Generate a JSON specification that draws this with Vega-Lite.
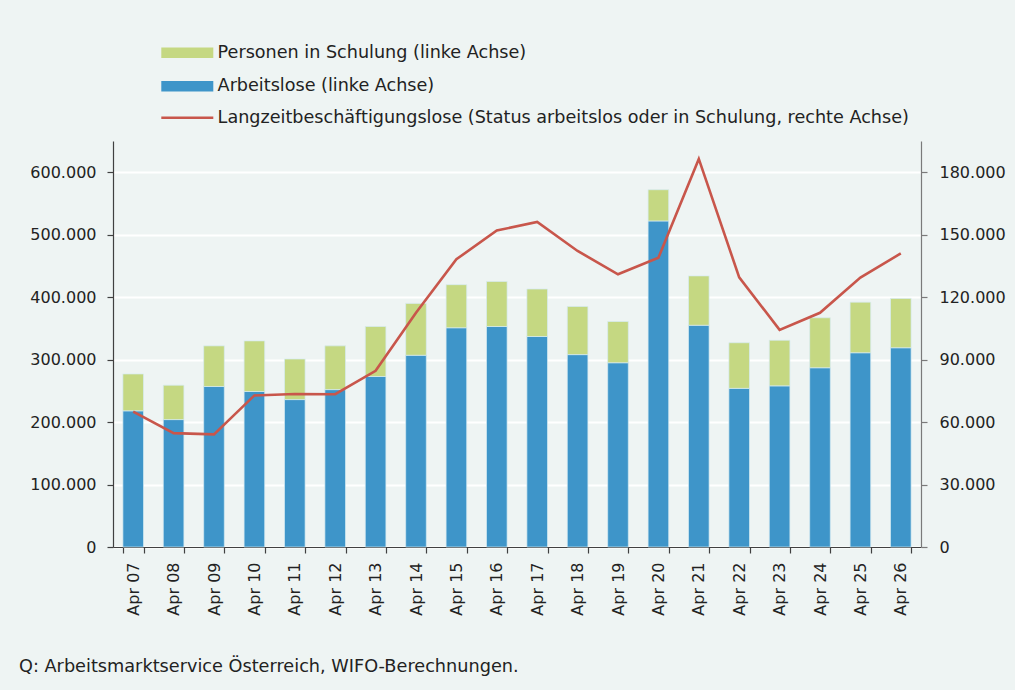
{
  "$schema": "https://vega.github.io/schema/vega-lite/v6.json",
  "width": 808,
  "height": 406,
  "autosize": {"type": "none"},
  "padding": {"left": 113, "top": 141, "right": 94, "bottom": 143},
  "background": "#eef4f3",
  "title": {
    "text": "Q: Arbeitsmarktservice Österreich, WIFO-Berechnungen.",
    "orient": "bottom",
    "anchor": "start",
    "frame": "group",
    "dx": -94,
    "offset": 43,
    "fontSize": 17.7,
    "fontWeight": "normal",
    "font": "DejaVu Sans",
    "color": "#222222",
    "baseline": "top"
  },
  "datasets": {
    "bars": [
      {"year": "Apr 07", "series": "Arbeitslose (linke Achse)", "value": 218000},
      {"year": "Apr 07", "series": "Personen in Schulung (linke Achse)", "value": 59000},
      {"year": "Apr 08", "series": "Arbeitslose (linke Achse)", "value": 204000},
      {"year": "Apr 08", "series": "Personen in Schulung (linke Achse)", "value": 55000},
      {"year": "Apr 09", "series": "Arbeitslose (linke Achse)", "value": 257000},
      {"year": "Apr 09", "series": "Personen in Schulung (linke Achse)", "value": 65000},
      {"year": "Apr 10", "series": "Arbeitslose (linke Achse)", "value": 249000},
      {"year": "Apr 10", "series": "Personen in Schulung (linke Achse)", "value": 81000},
      {"year": "Apr 11", "series": "Arbeitslose (linke Achse)", "value": 236000},
      {"year": "Apr 11", "series": "Personen in Schulung (linke Achse)", "value": 65000},
      {"year": "Apr 12", "series": "Arbeitslose (linke Achse)", "value": 252000},
      {"year": "Apr 12", "series": "Personen in Schulung (linke Achse)", "value": 70000},
      {"year": "Apr 13", "series": "Arbeitslose (linke Achse)", "value": 273000},
      {"year": "Apr 13", "series": "Personen in Schulung (linke Achse)", "value": 80000},
      {"year": "Apr 14", "series": "Arbeitslose (linke Achse)", "value": 307000},
      {"year": "Apr 14", "series": "Personen in Schulung (linke Achse)", "value": 83000},
      {"year": "Apr 15", "series": "Arbeitslose (linke Achse)", "value": 351000},
      {"year": "Apr 15", "series": "Personen in Schulung (linke Achse)", "value": 69000},
      {"year": "Apr 16", "series": "Arbeitslose (linke Achse)", "value": 353000},
      {"year": "Apr 16", "series": "Personen in Schulung (linke Achse)", "value": 72000},
      {"year": "Apr 17", "series": "Arbeitslose (linke Achse)", "value": 337000},
      {"year": "Apr 17", "series": "Personen in Schulung (linke Achse)", "value": 76000},
      {"year": "Apr 18", "series": "Arbeitslose (linke Achse)", "value": 308000},
      {"year": "Apr 18", "series": "Personen in Schulung (linke Achse)", "value": 77000},
      {"year": "Apr 19", "series": "Arbeitslose (linke Achse)", "value": 295000},
      {"year": "Apr 19", "series": "Personen in Schulung (linke Achse)", "value": 66000},
      {"year": "Apr 20", "series": "Arbeitslose (linke Achse)", "value": 522000},
      {"year": "Apr 20", "series": "Personen in Schulung (linke Achse)", "value": 50000},
      {"year": "Apr 21", "series": "Arbeitslose (linke Achse)", "value": 355000},
      {"year": "Apr 21", "series": "Personen in Schulung (linke Achse)", "value": 79000},
      {"year": "Apr 22", "series": "Arbeitslose (linke Achse)", "value": 254000},
      {"year": "Apr 22", "series": "Personen in Schulung (linke Achse)", "value": 73000},
      {"year": "Apr 23", "series": "Arbeitslose (linke Achse)", "value": 258000},
      {"year": "Apr 23", "series": "Personen in Schulung (linke Achse)", "value": 73000},
      {"year": "Apr 24", "series": "Arbeitslose (linke Achse)", "value": 287000},
      {"year": "Apr 24", "series": "Personen in Schulung (linke Achse)", "value": 80000},
      {"year": "Apr 25", "series": "Arbeitslose (linke Achse)", "value": 311000},
      {"year": "Apr 25", "series": "Personen in Schulung (linke Achse)", "value": 81000},
      {"year": "Apr 26", "series": "Arbeitslose (linke Achse)", "value": 319000},
      {"year": "Apr 26", "series": "Personen in Schulung (linke Achse)", "value": 79000}
    ],
    "line": [
      {"year": "Apr 07", "series": "Langzeitbeschäftigungslose (Status arbeitslos oder in Schulung, rechte Achse)", "value": 65000},
      {"year": "Apr 08", "series": "Langzeitbeschäftigungslose (Status arbeitslos oder in Schulung, rechte Achse)", "value": 54700},
      {"year": "Apr 09", "series": "Langzeitbeschäftigungslose (Status arbeitslos oder in Schulung, rechte Achse)", "value": 54100},
      {"year": "Apr 10", "series": "Langzeitbeschäftigungslose (Status arbeitslos oder in Schulung, rechte Achse)", "value": 72800},
      {"year": "Apr 11", "series": "Langzeitbeschäftigungslose (Status arbeitslos oder in Schulung, rechte Achse)", "value": 73500},
      {"year": "Apr 12", "series": "Langzeitbeschäftigungslose (Status arbeitslos oder in Schulung, rechte Achse)", "value": 73400},
      {"year": "Apr 13", "series": "Langzeitbeschäftigungslose (Status arbeitslos oder in Schulung, rechte Achse)", "value": 84600},
      {"year": "Apr 14", "series": "Langzeitbeschäftigungslose (Status arbeitslos oder in Schulung, rechte Achse)", "value": 112500},
      {"year": "Apr 15", "series": "Langzeitbeschäftigungslose (Status arbeitslos oder in Schulung, rechte Achse)", "value": 138200},
      {"year": "Apr 16", "series": "Langzeitbeschäftigungslose (Status arbeitslos oder in Schulung, rechte Achse)", "value": 152000},
      {"year": "Apr 17", "series": "Langzeitbeschäftigungslose (Status arbeitslos oder in Schulung, rechte Achse)", "value": 156100},
      {"year": "Apr 18", "series": "Langzeitbeschäftigungslose (Status arbeitslos oder in Schulung, rechte Achse)", "value": 142200},
      {"year": "Apr 19", "series": "Langzeitbeschäftigungslose (Status arbeitslos oder in Schulung, rechte Achse)", "value": 131000},
      {"year": "Apr 20", "series": "Langzeitbeschäftigungslose (Status arbeitslos oder in Schulung, rechte Achse)", "value": 138900},
      {"year": "Apr 21", "series": "Langzeitbeschäftigungslose (Status arbeitslos oder in Schulung, rechte Achse)", "value": 186400},
      {"year": "Apr 22", "series": "Langzeitbeschäftigungslose (Status arbeitslos oder in Schulung, rechte Achse)", "value": 129500},
      {"year": "Apr 23", "series": "Langzeitbeschäftigungslose (Status arbeitslos oder in Schulung, rechte Achse)", "value": 104300},
      {"year": "Apr 24", "series": "Langzeitbeschäftigungslose (Status arbeitslos oder in Schulung, rechte Achse)", "value": 112500},
      {"year": "Apr 25", "series": "Langzeitbeschäftigungslose (Status arbeitslos oder in Schulung, rechte Achse)", "value": 129400},
      {"year": "Apr 26", "series": "Langzeitbeschäftigungslose (Status arbeitslos oder in Schulung, rechte Achse)", "value": 141000}
    ]
  },
  "encoding": {
    "x": {
      "field": "year",
      "type": "nominal",
      "sort": null,
      "scale": {"paddingInner": 0.49, "paddingOuter": 0.245},
      "axis": {
        "title": null,
        "labelAngle": 270,
        "labelAlign": "right",
        "labelBaseline": "middle",
        "labelPadding": 9,
        "tickBand": "extent",
        "tickSize": 6,
        "tickColor": "#404040",
        "domainColor": "#404040",
        "grid": false
      }
    }
  },
  "layer": [
    {
      "data": {"name": "bars"},
      "mark": {"type": "bar", "stroke": "#d6ebf2", "strokeWidth": 0.7},
      "encoding": {
        "y": {
          "field": "value",
          "type": "quantitative",
          "stack": "zero",
          "scale": {"domain": [0, 650000], "nice": false},
          "axis": {
            "title": null,
            "orient": "left",
            "values": [0, 100000, 200000, 300000, 400000, 500000, 600000],
            "labelExpr": "replace(format(datum.value, ',d'), ',', '.')",
            "grid": true,
            "gridColor": "#ffffff",
            "gridWidth": 2,
            "tickSize": 6,
            "labelPadding": 11,
            "tickColor": "#404040",
            "domainColor": "#404040"
          }
        },
        "color": {
          "field": "series",
          "type": "nominal",
          "scale": {
            "domain": ["Personen in Schulung (linke Achse)", "Arbeitslose (linke Achse)"],
            "range": ["#c5d882", "#3e95c9"]
          },
          "legend": {
            "title": null,
            "orient": "none",
            "legendX": 46,
            "legendY": -97,
            "direction": "vertical",
            "symbolType": "M-1,-0.8L7,-0.8L7,0.8L-1,0.8Z",
            "symbolSize": 169,
            "symbolStrokeWidth": 0,
            "symbolOpacity": 1,
            "labelOffset": 41,
            "rowPadding": 14.5,
            "labelFontSize": 17.6,
            "labelColor": "#222222",
            "labelLimit": 900
          }
        },
        "order": {"field": "series", "sort": "ascending"}
      }
    },
    {
      "data": {"name": "line"},
      "mark": {"type": "line", "strokeWidth": 2.6},
      "encoding": {
        "y": {
          "field": "value",
          "type": "quantitative",
          "scale": {"domain": [0, 195000], "nice": false},
          "axis": {
            "title": null,
            "orient": "right",
            "values": [0, 30000, 60000, 90000, 120000, 150000, 180000],
            "labelExpr": "replace(format(datum.value, ',d'), ',', '.')",
            "grid": false,
            "tickSize": 6,
            "labelPadding": 12,
            "tickColor": "#7a7a7a",
            "domainColor": "#7a7a7a"
          }
        },
        "stroke": {
          "field": "series",
          "type": "nominal",
          "scale": {
            "domain": ["Langzeitbeschäftigungslose (Status arbeitslos oder in Schulung, rechte Achse)"],
            "range": ["#c8564b"]
          },
          "legend": {
            "title": null,
            "orient": "none",
            "legendX": 46,
            "legendY": -32,
            "direction": "vertical",
            "symbolType": "M-1,0L7,0",
            "symbolSize": 169,
            "symbolStrokeWidth": 2.6,
            "symbolOpacity": 1,
            "labelOffset": 41,
            "labelFontSize": 17.6,
            "labelColor": "#222222",
            "labelLimit": 900
          }
        }
      }
    }
  ],
  "resolve": {"scale": {"y": "independent"}},
  "config": {
    "view": {"stroke": null},
    "font": "DejaVu Sans",
    "axis": {
      "labelFont": "DejaVu Sans",
      "labelFontSize": 16,
      "labelColor": "#222222",
      "domainWidth": 1.2,
      "tickWidth": 1.2
    },
    "legend": {"labelFont": "DejaVu Sans"}
  }
}
